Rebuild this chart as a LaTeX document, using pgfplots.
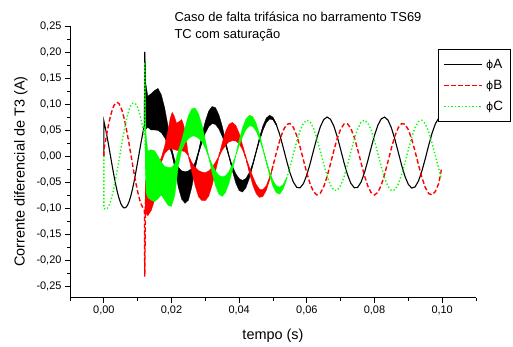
\documentclass[border=0pt]{standalone}
\usepackage{pgfplots}
\pgfplotsset{compat=1.18}
\usepackage{fontspec}
\setmainfont{Liberation Sans}
\newfontfamily\dejavu{DejaVu Sans}
\newcommand{\ph}{{\dejavu\fontsize{11}{13}\selectfont ϕ}}
\begin{document}
\begin{tikzpicture}
\begin{axis}[
  width=406bp, height=271.7bp, scale only axis,
  xmin=-10, xmax=110, ymin=-0.2725, ymax=0.25,
  axis x line*=bottom, axis y line*=left,
  axis line style={-, line width=0.9bp},
  tick align=outside,
  major tick length=5bp, minor tick length=3bp,
  tick style={black, line width=0.8bp},
  xtick={0,20,40,60,80,100},
  xticklabels={{0,00},{0,02},{0,04},{0,06},{0,08},{0,10}},
  minor xtick={-10,10,30,50,70,90,110},
  ytick={-0.25,-0.20,-0.15,-0.10,-0.05,0,0.05,0.10,0.15,0.20,0.25},
  yticklabels={{-0,25},{-0,20},{-0,15},{-0,10},{-0,05},{0,00},{0,05},{0,10},{0,15},{0,20},{0,25}},
  minor ytick={-0.225,-0.175,-0.125,-0.075,-0.025,0.025,0.075,0.125,0.175,0.225},
  tick label style={font=\fontsize{11}{13}\selectfont},
  xlabel={tempo (s)}, ylabel={Corrente diferencial de T3 (A)},
  label style={font=\fontsize{14.5}{17}\selectfont},
  xlabel style={at={(axis description cs:0.5,-0.141)}, anchor=center},
  ylabel style={at={(axis description cs:-0.1207,0.4645)}, anchor=center},
  legend image code/.code={\draw[#1] (0bp,0bp) -- (38bp,0bp);},
  legend style={at={(axis description cs:0.907,0.914)}, anchor=north west,
    draw=black, line width=0.8bp, fill=white, font=\fontsize{13.5}{15}\selectfont,
    row sep=6.5bp, inner xsep=5bp, inner ysep=7bp,
    /tikz/every odd column/.append style={column sep=1bp}},
  legend cell align=left,
  clip=false,
]
% ---- phase A (black)
\addplot[forget plot, black, line width=1.1bp] coordinates {
(0,0) (0,0.0675) (0.5,0.0525) (1,0.0356) (1.5,0.0175) (2,-0.0013) (2.5,-0.020) (3,-0.038) (3.5,-0.0546) (4,-0.0694) (4.5,-0.0816) (5,-0.091) (5.5,-0.0972) (6,-0.0999) (6.5,-0.099) (7,-0.0947) (7.5,-0.087) (8,-0.0762) (8.5,-0.0628) (9,-0.0471) (9.5,-0.0297) (10,-0.0113) (10.5,0.0075) (11,0.0261) (11.5,0.0437) (12,0.0598) (12.1,0.200) (12.3,0.12) (13,0.088) (14,0.089) (15,0.089) (16,0.0896) (17,0.0812) (18,0.0635) (19,0.0391) (20,0.0112) (21,-0.0161) (22,-0.0388) (23,-0.0537) (24,-0.059) (25,-0.054) (26,-0.0398) (27,-0.0183) (28,0.0072) (29,0.0329) (30,0.0555) (31,0.0714) (32,0.0788) (33,0.0768) (34,0.0658) (35,0.0474) (36,0.0243) (37,-0.0005) (38,-0.024) (39,-0.043) (40,-0.055) (41,-0.0581) (42,-0.052) (43,-0.0376) (44,-0.0168) (45,0.0077) (46,0.0322) (47,0.0533) (48,0.0683) (49,0.0748) (50,0.072) (51,0.060) (52,0.0409) (53,0.0169) (54,-0.0086) (55,-0.0319) (56,-0.0499) (57,-0.0602) (58,-0.0613) (59,-0.053) (60,-0.0365) (61,-0.0141) (62,0.0112) (63,0.0357) (64,0.0564) (65,0.0701) (66,0.075) (67,0.0705) (68,0.0572) (69,0.0368) (70,0.0124) (71,-0.013) (72,-0.0356) (73,-0.0524) (74,-0.0611) (75,-0.0605) (76,-0.0506) (77,-0.0329) (78,-0.0097) (79,0.0157) (80,0.0398) (81,0.0593) (82,0.0716) (83,0.0749) (84,0.0688) (85,0.054) (86,0.0327) (87,0.0079) (88,-0.0173) (89,-0.0391) (90,-0.0546) (91,-0.0617) (92,-0.0594) (93,-0.048) (94,-0.0291) (95,-0.0053) (96,0.0201) (97,0.0437) (98,0.0621) (99,0.0729) (100,0.0745)
};
\addplot[forget plot, fill=black, draw=black, line width=0.3bp] coordinates {
(12.1,0.200) (12.4,0.14) (13,0.115) (14,0.12) (15,0.126) (16,0.1299) (17,0.1177) (18,0.0921) (19,0.0567) (20,0.0162) (21,-0.0089) (22,-0.0213) (23,-0.0285) (24,-0.030) (25,-0.0287) (26,-0.0238) (27,-0.0118) (28,0.0094) (29,0.0414) (30,0.0672) (31,0.0864) (32,0.0953) (33,0.0929) (34,0.0796) (35,0.0574) (36,0.0294) (37,0.0000) (38,-0.019) (39,-0.034) (40,-0.0434) (41,-0.0469) (42,-0.043) (43,-0.0317) (44,-0.0145) (45,0.0086) (46,0.0355) (47,0.0579) (48,0.0729) (49,0.0785) (50,0.0747) (51,0.0615)
(51,0.0585) (50,0.0693) (49,0.0711) (48,0.0637) (47,0.0487) (46,0.0289) (45,0.0068) (44,-0.0191) (43,-0.0435) (42,-0.061) (41,-0.0693) (40,-0.0666) (39,-0.052) (38,-0.029) (37,-0.001) (36,0.0192) (35,0.0374) (34,0.052) (33,0.0607) (32,0.0623) (31,0.0564) (30,0.0438) (29,0.0244) (28,0.005) (27,-0.0248) (26,-0.0600) (25,-0.085) (24,-0.091) (23,-0.083) (22,-0.060) (21,-0.0233) (20,0.0062) (19,0.0215) (18,0.0349) (17,0.0447) (16,0.0493) (15,0.050) (14,0.050) (13,0.055) (12.1,0.050)
};
% ---- phase B (red)
\addplot[forget plot, red, line width=1.4bp, dash pattern=on 4.5bp off 2.5bp] coordinates {
(0,0) (0,0.0103) (0.5,0.0294) (1,0.0473) (1.5,0.0637) (2,0.0777) (2.5,0.089) (3,0.0971) (3.5,0.1018) (4,0.1029) (4.5,0.1004) (5,0.0943) (5.5,0.0848) (6,0.0724) (6.5,0.0574) (7,0.0403) (7.5,0.0218) (8,0.0026) (8.5,-0.0167) (9,-0.0355) (9.5,-0.053) (10,-0.0686) (10.5,-0.0818) (11,-0.0921) (11.5,-0.0991) (12,-0.1026) (12.1,-0.232) (12.3,-0.09) (12.5,-0.0605) (13,-0.0609) (14,-0.0561) (15,-0.0445) (16,-0.0275) (17,-0.0077) (18,0.0122) (19,0.0295) (20,0.0415) (21,0.0468) (22,0.0446) (23,0.035) (24,0.0196) (25,0.0005) (26,-0.0198) (27,-0.0382) (28,-0.0522) (29,-0.0599) (30,-0.0602) (31,-0.053) (32,-0.0393) (33,-0.0211) (34,-0.0009) (35,0.0183) (36,0.0339) (37,0.044) (38,0.047) (39,0.044) (40,0.0336) (41,0.0168) (42,-0.0042) (43,-0.0266) (44,-0.0473) (45,-0.0632) (46,-0.0717) (47,-0.0714) (48,-0.0618) (49,-0.0431) (50,-0.0193) (51,0.0063) (52,0.0302) (53,0.0491) (54,0.0605) (55,0.0626) (56,0.0553) (57,0.0395) (58,0.0175) (59,-0.0078) (60,-0.0328) (61,-0.0542) (62,-0.0689) (63,-0.0749) (64,-0.0714) (65,-0.059) (66,-0.0392) (67,-0.0148) (68,0.0108) (69,0.0341) (70,0.0518) (71,0.0616) (72,0.062) (73,0.0531) (74,0.036) (75,0.0132) (76,-0.0123) (77,-0.037) (78,-0.0573) (79,-0.0706) (80,-0.075) (81,-0.0698) (82,-0.0559) (83,-0.0351) (84,-0.0102) (85,0.0152) (86,0.0377) (87,0.0542) (88,0.0623) (89,0.0611) (90,0.0506) (91,0.0323) (92,0.0087) (93,-0.0169) (94,-0.041) (95,-0.0603) (96,-0.0721) (97,-0.0748) (98,-0.068) (99,-0.0526) (99.8,-0.025)
};
\addplot[forget plot, fill=red, draw=red, line width=0.3bp] coordinates {
(12.2,-0.05) (12.5,-0.045) (13,-0.045) (14,-0.04) (15,-0.03) (16,-0.015) (17,-0.0031) (18,0.0195) (19,0.05) (19.6,0.072) (20.2,0.084) (20.8,0.077) (21.5,0.063) (22.2,0.066) (23.0,0.070) (23.6,0.06) (24.2,0.04) (25,0.0008) (26,-0.0120) (27,-0.0220) (28,-0.0280) (29,-0.0308) (30,-0.0319) (31,-0.0287) (32,-0.0218) (33,-0.0119) (34,-0.0005) (35,0.0258) (36,0.0474) (37,0.061) (38,0.0646) (39,0.059) (40,0.044) (41,0.0214) (42,-0.0032) (43,-0.021) (44,-0.039) (45,-0.0542) (46,-0.0638) (47,-0.0648) (48,-0.0573) (49,-0.0407) (50,-0.0186)
(50,-0.02) (49,-0.0455) (48,-0.0663) (47,-0.078) (46,-0.0796) (45,-0.0722) (44,-0.0556) (43,-0.0322) (42,-0.0052) (41,0.0122) (40,0.0232) (39,0.029) (38,0.0294) (37,0.027) (36,0.0204) (35,0.0108) (34,-0.0013) (33,-0.0303) (32,-0.0568) (31,-0.0773) (30,-0.0860) (29,-0.086) (28,-0.0785) (27,-0.058) (26,-0.0304) (25,0.0002) (24,0.0082) (23,0.0100) (22,0.0100) (21,0.0120) (20,0.0140) (19,0.0118) (18,0.0049) (17,-0.0123) (16,-0.055) (15,-0.085) (14,-0.105) (13,-0.115) (12.5,-0.11) (12.2,-0.12)
};
% ---- phase C (green)
\addplot[forget plot, green, line width=1.4bp, dash pattern=on 1.3bp off 2.2bp] coordinates {
(0,0) (0,-0.1006) (0.5,-0.1025) (1,-0.1008) (1.5,-0.0955) (2,-0.0869) (2.5,-0.0752) (3,-0.0608) (3.5,-0.0442) (4,-0.0261) (4.5,-0.0071) (5,0.0122) (5.5,0.0311) (6,0.0488) (6.5,0.0648) (7,0.0786) (7.5,0.0895) (8,0.0973) (8.5,0.1016) (9,0.1023) (9.5,0.0994) (10,0.093) (10.5,0.0833) (11,0.0706) (11.5,0.0555) (12,0.0383) (12.1,0.18) (12.2,0.02) (12.6,-0.02) (13,-0.035) (14,-0.045) (15,-0.05) (16,-0.045) (17,-0.04) (18,-0.05) (19,-0.058) (20,-0.058) (21,-0.04) (22,-0.005) (23,0.018) (24,0.0399) (25,0.0568) (26,0.0664) (27,0.0673) (28,0.0594) (29,0.0437) (30,0.0226) (31,-0.0011) (32,-0.024) (33,-0.0429) (34,-0.0551) (35,-0.059) (36,-0.0539) (37,-0.0411) (38,-0.0217) (39,0.0014) (40,0.0251) (41,0.0458) (42,0.0609) (43,0.0681) (44,0.0663) (45,0.0556) (46,0.0376) (47,0.0145) (48,-0.0104) (49,-0.0339) (50,-0.0528) (51,-0.0642) (52,-0.0666) (53,-0.0592) (54,-0.0436) (55,-0.0218) (56,0.0032) (57,0.0278) (58,0.0488) (59,0.0631) (60,0.0689) (61,0.0654) (62,0.0529) (63,0.0333) (64,0.0092) (65,-0.016) (66,-0.0388) (67,-0.0562) (68,-0.0657) (69,-0.066) (70,-0.057) (71,-0.04) (72,-0.0175) (73,0.0077) (74,0.0319) (75,0.0519) (76,0.0648) (77,0.069) (78,0.0638) (79,0.0499) (80,0.0293) (81,0.0047) (82,-0.0203) (83,-0.0424) (84,-0.0585) (85,-0.0664) (86,-0.065) (87,-0.0545) (88,-0.0364) (89,-0.0131) (90,0.0122) (91,0.0359) (92,0.0548) (93,0.0662) (94,0.0687) (95,0.0619) (96,0.0466) (97,0.0251) (98,0.0002) (99,-0.0245) (99.8,-0.044)
};
\addplot[forget plot, fill=green, draw=green, line width=0.3bp] coordinates {
(12.1,0.18) (12.3,0.09) (12.5,0.04) (13,0.01) (14,0.012) (15,0.01) (16,0.0) (17,-0.012) (18,-0.02) (19,-0.022) (20,-0.022) (21,-0.015) (22,0.010) (23,0.030) (24,0.0547) (25,0.0778) (26,0.091) (27,0.0922) (28,0.0814) (29,0.0596) (30,0.0306) (31,-0.0007) (32,-0.0158) (33,-0.0286) (34,-0.0371) (35,-0.0401) (36,-0.0378) (37,-0.0297) (38,-0.0161) (39,0.0017) (40,0.0305) (41,0.0546) (42,0.0713) (43,0.0783) (44,0.0758) (45,0.0633) (46,0.0426) (47,0.0164) (48,-0.0091) (49,-0.0299) (50,-0.0469) (51,-0.0574) (52,-0.0599) (53,-0.0548) (54,-0.0414)
(54,-0.0458) (53,-0.0636) (52,-0.0733) (51,-0.071) (50,-0.0587) (49,-0.0379) (48,-0.0117) (47,0.0126) (46,0.0326) (45,0.0479) (44,0.0568) (43,0.0579) (42,0.0505) (41,0.037) (40,0.0197) (39,0.0011) (38,-0.0273) (37,-0.0525) (36,-0.07) (35,-0.0779) (34,-0.0731) (33,-0.0572) (32,-0.0322) (31,-0.0015) (30,0.0146) (29,0.0278) (28,0.0340) (27,0.0380) (26,0.0380) (25,0.0330) (24,0.0251) (23,0.0113) (22,-0.02) (21,-0.075) (20,-0.097) (19,-0.095) (18,-0.085) (17,-0.075) (16,-0.082) (15,-0.088) (14,-0.085) (13,-0.080) (12.5,-0.07) (12.2,-0.02)
};
% ---- legend
\addlegendimage{black, line width=1.1bp}
\addlegendentry{\ph A}
\addlegendimage{red, line width=1.4bp, dash pattern=on 4.5bp off 2.5bp}
\addlegendentry{\ph B}
\addlegendimage{green, line width=1.4bp, dash pattern=on 1.3bp off 2.2bp}
\addlegendentry{\ph C}
\node[anchor=base west, font=\fontsize{13}{15}\selectfont] at (axis description cs:0.2488,1.0158) {Caso de falta trif\'asica no barramento TS69};
\node[anchor=base west, font=\fontsize{13}{15}\selectfont] at (axis description cs:0.2488,0.9547) {TC com satura\c{c}\~ao};
\end{axis}
\pgfresetboundingbox
\path[use as bounding box] (-70bp,-49.3bp) rectangle (443bp,297.7bp);
\end{tikzpicture}
\end{document}
